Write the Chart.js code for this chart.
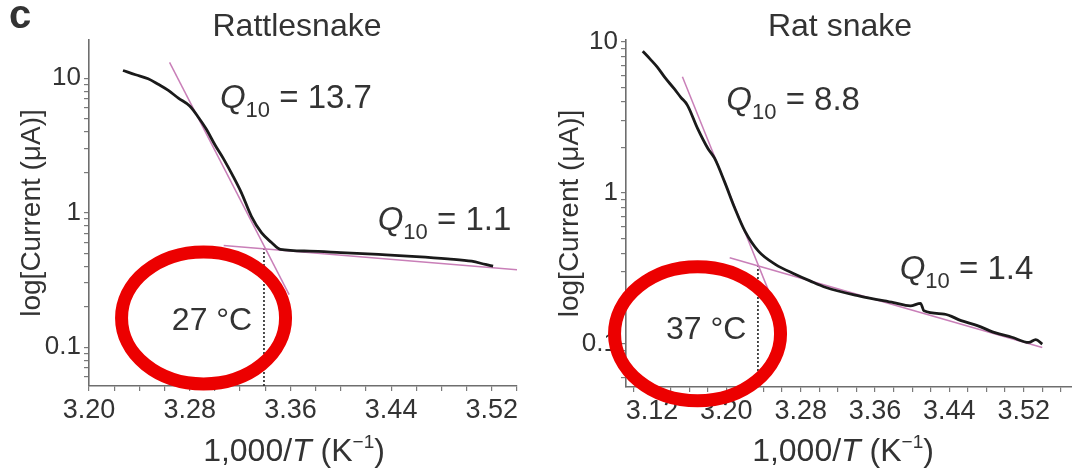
<!DOCTYPE html>
<html>
<head>
<meta charset="utf-8">
<script src="https://cdn.jsdelivr.net/npm/chart.js@4.4.1/dist/chart.umd.min.js"></script>
<style>
    body { margin: 0; background: #fff; }
    #wrap { position: relative; width: 1072px; height: 471px; overflow: hidden; }
    #wrap canvas { position: absolute; top: 0; }
</style>
</head>
<body>
<div id="wrap">
    <canvas id="rattle" width="536" height="471" style="left:0"></canvas>
    <canvas id="rat" width="536" height="471" style="left:536px"></canvas>
</div>
<script>
// Rattlesnake: 1000/T vs current (uA)
const rattleX = [3.227, 3.237, 3.247, 3.255, 3.263, 3.271, 3.280, 3.287, 3.293, 3.300, 3.307, 3.314, 3.321, 3.329, 3.337, 3.345, 3.352, 3.375, 3.400, 3.430, 3.460, 3.485, 3.504, 3.515, 3.521];
const rattleY = [11.4, 10.6, 9.9, 9.0, 8.1, 7.1, 6.2, 5.1, 4.2, 3.2, 2.5, 1.9, 1.41, 0.94, 0.71, 0.60, 0.533, 0.518, 0.505, 0.489, 0.472, 0.454, 0.436, 0.412, 0.40];
// fitted lines (start / end)
const rattleFitHotX = [3.264, 3.359];
const rattleFitHotY = [13.1, 0.246];
const rattleFitColdX = [3.307, 3.540];
const rattleFitColdY = [0.571, 0.376];
const rattleBreakX = 3.339;
const rattleBreakY = 0.54;
const rattleQ10 = ['13.7', '1.1'];

// Rat snake
const ratX = [3.110, 3.118, 3.1255, 3.134, 3.1436, 3.151, 3.158, 3.169, 3.180, 3.1873, 3.198, 3.209, 3.220, 3.2345, 3.2527, 3.2745, 3.290, 3.3073, 3.3436, 3.380, 3.398, 3.409, 3.4127, 3.4345, 3.4527, 3.4709, 3.489, 3.5073, 3.5255, 3.533, 3.540];
const ratY = [8.68, 7.7, 6.84, 5.8, 4.92, 4.3, 3.82, 2.68, 1.98, 1.70, 1.19, 0.796, 0.559, 0.412, 0.337, 0.289, 0.262, 0.237, 0.208, 0.188, 0.179, 0.186, 0.166, 0.158, 0.143, 0.132, 0.119, 0.111, 0.1026, 0.107, 0.100];
const ratFitHotX = [3.1527, 3.2455];
const ratFitHotY = [5.88, 0.225];
const ratFitColdX = [3.2036, 3.540];
const ratFitColdY = [0.373, 0.095];
const ratBreakX = 3.234;
const ratBreakY = 0.33;
const ratQ10 = ['8.8', '1.4'];

// axes
const rattleXMajor = [3.20, 3.28, 3.36, 3.44, 3.52];
const ratXMajor = [3.12, 3.20, 3.28, 3.36, 3.44, 3.52];
const yMajor = [0.1, 1, 10];

const FONT = '"Liberation Sans", Arial, Helvetica, sans-serif';
const TEXT = '#333';
const PINK = '#c97fb8';

function pts(xs, ys) {
    return xs.map((x, i) => ({ x: x, y: ys[i] }));
}

function minorX(min, max) {
    const out = [];
    for (let v = Math.ceil(min * 50 - 1e-6); v <= max * 50 + 1e-6; v++) out.push(v / 50);
    return out;
}

function minorLog(min, max) {
    const out = [];
    [0.01, 0.1, 1, 10].forEach((d) => {
        for (let k = 1; k <= 9; k++) {
            const v = k * d;
            if (v >= min && v <= max) out.push(v);
        }
    });
    return out;
}

// draws text made of pieces (italic Q, subscripts, superscripts)
function richText(ctx, parts, x, y, align) {
    const fontOf = (p) => (p.italic ? 'italic ' : '') + (p.bold ? 'bold ' : '') + p.size + 'px ' + FONT;
    let w = 0;
    parts.forEach((p) => { ctx.font = fontOf(p); w += ctx.measureText(p.t).width; });
    let cx = align === 'center' ? x - w / 2 : x;
    ctx.textAlign = 'left';
    ctx.textBaseline = 'alphabetic';
    parts.forEach((p) => {
        ctx.font = fontOf(p);
        ctx.fillText(p.t, cx, y + (p.dy || 0));
        cx += ctx.measureText(p.t).width;
    });
}

function q10Parts(val) {
    return [
        { t: 'Q', size: 33, italic: true },
        { t: '10', size: 22, dy: 9 },
        { t: ' = ' + val, size: 33 },
    ];
}

const overlay = {
    id: 'overlay',
    afterDraw(chart, args, o) {
        const ctx = chart.ctx;
        const xs = chart.scales.x;
        const ys = chart.scales.y;
        ctx.save();
        ctx.fillStyle = TEXT;

        if (o.letter) richText(ctx, [{ t: o.letter, size: 40, bold: true }], 9, 28, 'left');
        richText(ctx, [{ t: o.title, size: 32 }], o.titleX, 36, 'center');

        richText(ctx, [
            { t: '1,000/', size: 32 },
            { t: 'T', size: 32, italic: true },
            { t: ' (K', size: 32 },
            { t: '\u22121', size: 19, dy: -13 },
            { t: ')', size: 32 },
        ], o.axisTitleX, 461, 'center');

        o.q10.forEach((n) => {
            richText(ctx, q10Parts(n.val), xs.getPixelForValue(n.x), ys.getPixelForValue(n.y), 'left');
        });
        richText(ctx, [{ t: o.temp.text, size: 32 }], xs.getPixelForValue(o.temp.x), ys.getPixelForValue(o.temp.y), 'left');

        // red highlight ring
        ctx.beginPath();
        ctx.ellipse(xs.getPixelForValue(o.ring.x), ys.getPixelForValue(o.ring.y), o.ring.rx, o.ring.ry, 0, 0, Math.PI * 2);
        ctx.lineWidth = 13;
        ctx.strokeStyle = '#ec0000';
        ctx.stroke();
        ctx.restore();
    },
};

function makeChart(id, cfg) {
    const xTicks = minorX(cfg.xMin, cfg.xMax);
    const yTicks = minorLog(cfg.yMin, cfg.yMax);
    return new Chart(document.getElementById(id), {
        type: 'line',
        data: {
            datasets: [
                {
                    data: pts(cfg.x, cfg.y),
                    borderColor: '#1a1a1a',
                    borderWidth: 2.8,
                    pointRadius: 0,
                    cubicInterpolationMode: 'monotone',
                },
                {
                    data: pts(cfg.hotX, cfg.hotY),
                    borderColor: PINK,
                    borderWidth: 1.5,
                    pointRadius: 0,
                },
                {
                    data: pts(cfg.coldX, cfg.coldY),
                    borderColor: PINK,
                    borderWidth: 1.5,
                    pointRadius: 0,
                },
                {
                    data: [{ x: cfg.breakX, y: cfg.yMin }, { x: cfg.breakX, y: cfg.breakY }],
                    borderColor: '#222',
                    borderWidth: 1.6,
                    borderDash: [2, 2],
                    pointRadius: 0,
                },
            ],
        },
        options: {
            responsive: false,
            animation: false,
            devicePixelRatio: 1,
            layout: { padding: { top: 40, right: cfg.padRight, left: 0, bottom: 0 } },
            plugins: {
                legend: { display: false },
                tooltip: { enabled: false },
                overlay: cfg.overlay,
            },
            scales: {
                x: {
                    type: 'linear',
                    min: cfg.xMin,
                    max: cfg.xMax,
                    afterBuildTicks: (s) => { s.ticks = xTicks.map((v) => ({ value: v })); },
                    afterFit: (s) => { s.height = cfg.xHeight; },
                    ticks: {
                        autoSkip: false,
                        maxRotation: 0,
                        padding: 3,
                        color: TEXT,
                        font: { family: FONT, size: 27 },
                        callback: (v) => {
                            const m = cfg.xMajor.find((t) => Math.abs(t - v) < 1e-6);
                            return m === undefined ? '' : m.toFixed(2);
                        },
                    },
                    grid: { drawOnChartArea: false, tickLength: 5, color: '#7a7a7a', lineWidth: 1.2 },
                    border: { display: true, color: '#6e6e6e', width: 1.6 },
                },
                y: {
                    type: 'logarithmic',
                    min: cfg.yMin,
                    max: cfg.yMax,
                    afterBuildTicks: (s) => { s.ticks = yTicks.map((v) => ({ value: v })); },
                    afterFit: (s) => { s.width = cfg.yWidth; },
                    ticks: {
                        autoSkip: false,
                        padding: 3,
                        color: TEXT,
                        font: { family: FONT, size: 26 },
                        callback: (v) => (yMajor.includes(v) ? String(v) : ''),
                    },
                    grid: { drawOnChartArea: false, tickLength: 5, color: '#7a7a7a', lineWidth: 1.2 },
                    border: { display: true, color: '#6e6e6e', width: 1.6 },
                    title: {
                        display: true,
                        text: 'log[Current (\u03bcA)]',
                        color: TEXT,
                        font: { family: FONT, size: 28 },
                        padding: { top: cfg.yTitlePad, bottom: 0 },
                    },
                },
            },
        },
        plugins: [overlay],
    });
}

makeChart('rattle', {
    x: rattleX, y: rattleY,
    hotX: rattleFitHotX, hotY: rattleFitHotY,
    coldX: rattleFitColdX, coldY: rattleFitColdY,
    breakX: rattleBreakX, breakY: rattleBreakY,
    xMin: 3.20, xMax: 3.54, xMajor: rattleXMajor,
    yMin: 0.0515, yMax: 19.2,
    yWidth: 89, xHeight: 85, padRight: 19, yTitlePad: 15,
    overlay: {
        letter: 'c',
        title: 'Rattlesnake',
        titleX: 297,
        axisTitleX: 294,
        q10: [
            { val: rattleQ10[0], x: 3.304, y: 6.04 },
            { val: rattleQ10[1], x: 3.4293, y: 0.748 },
        ],
        temp: { text: '27 \u00b0C', x: 3.2658, y: 0.135 },
        ring: { x: 3.291, y: 0.165, rx: 82, ry: 66 },
    },
});

makeChart('rat', {
    x: ratX, y: ratY,
    hotX: ratFitHotX, hotY: ratFitHotY,
    coldX: ratFitColdX, coldY: ratFitColdY,
    breakX: ratBreakX, breakY: ratBreakY,
    xMin: 3.092, xMax: 3.572, xMajor: ratXMajor,
    yMin: 0.052, yMax: 10.3,
    yWidth: 90, xHeight: 84, padRight: 0, yTitlePad: 17,
    overlay: {
        letter: null,
        title: 'Rat snake',
        titleX: 304,
        axisTitleX: 307,
        q10: [
            { val: ratQ10[0], x: 3.2, y: 3.56 },
            { val: ratQ10[1], x: 3.3865, y: 0.27 },
        ],
        temp: { text: '37 \u00b0C', x: 3.135, y: 0.1086 },
        ring: { x: 3.169, y: 0.117, rx: 83, ry: 67 },
    },
});
</script>
</body>
</html>
